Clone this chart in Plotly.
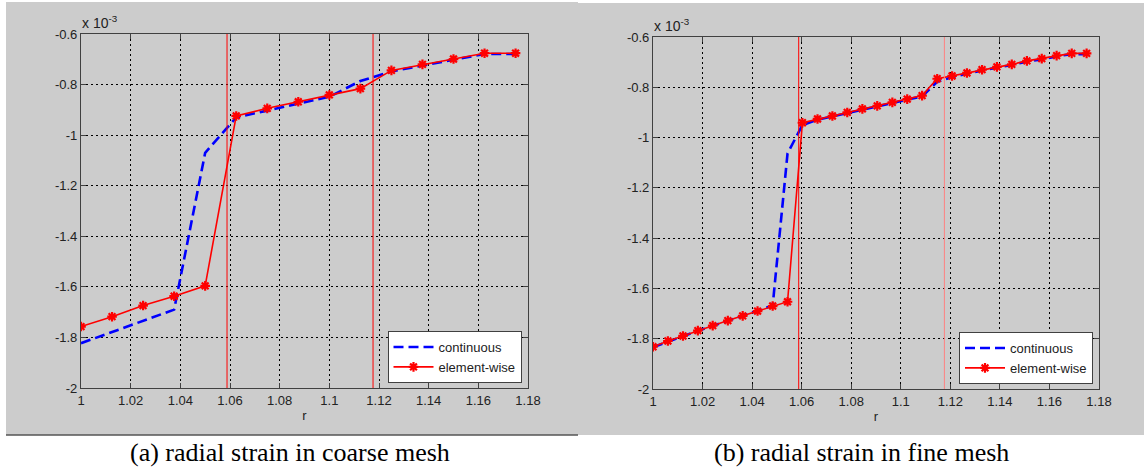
import plotly.graph_objects as go

W, H = 1144, 468

# ---------------- data (strain values in units of 1e-3) ----------------
r_coarse = [1.0, 1.0125, 1.025, 1.0375, 1.05, 1.0625, 1.075, 1.0875,
            1.1, 1.1125, 1.125, 1.1375, 1.15, 1.1625, 1.175]
cont_coarse = [-1.823, -1.779, -1.735, -1.690, -1.070, -0.930, -0.903, -0.877,
               -0.848, -0.786, -0.748, -0.725, -0.701, -0.679, -0.679]
elem_coarse = [-1.757, -1.718, -1.674, -1.637, -1.596, -0.924, -0.894, -0.868,
               -0.841, -0.816, -0.744, -0.720, -0.699, -0.676, -0.676]

r_fine = [1.0, 1.0060, 1.0121, 1.0181, 1.0241, 1.0302, 1.0362, 1.0422, 1.0483, 1.0543,
          1.0603, 1.0664, 1.0724, 1.0784, 1.0845, 1.0905, 1.0966, 1.1026, 1.1086, 1.1147,
          1.1207, 1.1267, 1.1328, 1.1388, 1.1448, 1.1509, 1.1569, 1.1629, 1.1690, 1.1750]
cont_fine = [-1.834, -1.811, -1.790, -1.769, -1.749, -1.729, -1.710, -1.690, -1.668, -1.063,
             -0.950, -0.929, -0.916, -0.902, -0.888, -0.876, -0.862, -0.849, -0.836, -0.778,
             -0.760, -0.746, -0.733, -0.722, -0.711, -0.698, -0.689, -0.677, -0.668, -0.668]
elem_fine = [-1.832, -1.809, -1.789, -1.768, -1.748, -1.728, -1.709, -1.690, -1.670, -1.653,
             -0.941, -0.926, -0.914, -0.900, -0.886, -0.874, -0.860, -0.847, -0.833, -0.766,
             -0.755, -0.743, -0.730, -0.719, -0.709, -0.695, -0.686, -0.674, -0.665, -0.665]

interfaces = [1.0588, 1.1176]

x_ticks = [1.0, 1.02, 1.04, 1.06, 1.08, 1.1, 1.12, 1.14, 1.16, 1.18]
x_ticktext = ["1", "1.02", "1.04", "1.06", "1.08", "1.1", "1.12", "1.14", "1.16", "1.18"]
y_ticks = [-2.0, -1.8, -1.6, -1.4, -1.2, -1.0, -0.8, -0.6]
y_ticktext = ["-2", "-1.8", "-1.6", "-1.4", "-1.2", "-1", "-0.8", "-0.6"]

series_names = ["continuous", "element-wise"]
captions = ["(a) radial strain in coarse mesh", "(b) radial strain in fine mesh"]

# ---------------- layout geometry (pixels) ----------------
plots = [
    dict(x0=81, x1=528, y0=34, y1=388),
    dict(x0=653, x1=1099, y0=37, y1=389),
]


def px(v):
    return v / W


def py(v):
    return 1 - v / H


fig = go.Figure()

datasets = [(r_coarse, cont_coarse, elem_coarse), (r_fine, cont_fine, elem_fine)]
for i, (rr, cc, ee) in enumerate(datasets):
    sfx = "" if i == 0 else str(i + 1)
    leg = "legend" if i == 0 else "legend2"
    fig.add_trace(go.Scatter(
        x=rr, y=cc, mode="lines", name=series_names[0],
        line=dict(color="#0000ff", width=2.6, dash="10px,5px"),
        xaxis="x" + sfx, yaxis="y" + sfx, legend=leg))
    fig.add_trace(go.Scatter(
        x=rr, y=ee, mode="lines+markers", name=series_names[1],
        line=dict(color="#ff0000", width=1.6),
        marker=dict(symbol="asterisk-open", size=8, color="#ff0000",
                    line=dict(color="#ff1010", width=2.2)),
        xaxis="x" + sfx, yaxis="y" + sfx, legend=leg))

axis_common = dict(
    showgrid=True, gridcolor="#000000", gridwidth=1, griddash="2px,3px",
    showline=True, linecolor="#404040", linewidth=1.2, mirror="ticks",
    ticks="inside", ticklen=5, tickcolor="#404040",
    zeroline=False, automargin=False,
    tickfont=dict(family="Liberation Sans, Arial", size=13, color="#222222"),
)

layout = dict(
    width=W, height=H, margin=dict(l=0, r=0, t=0, b=0, pad=0, autoexpand=False),
    paper_bgcolor="white", plot_bgcolor="white", showlegend=True,
)

for i, p in enumerate(plots):
    sfx = "" if i == 0 else str(i + 1)
    layout["xaxis" + sfx] = dict(
        axis_common, domain=[px(p["x0"]), px(p["x1"])], range=[1.0, 1.18],
        tickvals=x_ticks, ticktext=x_ticktext, anchor="y" + sfx,
        title=dict(text="r", font=dict(family="Liberation Sans, Arial", size=13, color="#222"),
                   standoff=4))
    layout["yaxis" + sfx] = dict(
        axis_common, domain=[py(p["y1"]), py(p["y0"])], range=[-2.0, -0.6],
        tickvals=y_ticks, ticktext=y_ticktext, anchor="x" + sfx)

legend_style = dict(bgcolor="white", bordercolor="#404040", borderwidth=1,
                    font=dict(family="Liberation Sans, Arial", size=13, color="#222"),
                    xanchor="right", yanchor="bottom", tracegroupgap=0,
                    itemwidth=40)
layout["legend"] = dict(legend_style, x=px(521.5), y=py(383))
layout["legend2"] = dict(legend_style, x=px(1093), y=py(384))

fig.update_layout(**layout)

# grey figure panels
shapes = [
    dict(type="rect", xref="paper", yref="paper", x0=px(6), x1=px(578), y0=py(435), y1=py(2),
         fillcolor="#cccccc", line=dict(width=0), layer="below"),
    dict(type="rect", xref="paper", yref="paper", x0=px(572), x1=px(1144), y0=py(435), y1=py(3),
         fillcolor="#cccccc", line=dict(width=0), layer="below"),
    dict(type="line", xref="paper", yref="paper", x0=px(6), x1=px(578), y0=py(435), y1=py(435),
         line=dict(color="#555555", width=1.5)),
]
# interface lines
for i in range(2):
    sfx = "" if i == 0 else str(i + 1)
    for k, xv in enumerate(interfaces):
        col = "#ff0000" if (i == 0 or k == 0) else "#ff8080"
        shapes.append(dict(type="line", xref="x" + sfx, yref="y" + sfx + " domain",
                           x0=xv, x1=xv, y0=0, y1=1, line=dict(color=col, width=1)))
fig.update_layout(shapes=shapes)

annotations = []
for i, p in enumerate(plots):
    annotations.append(dict(
        xref="paper", yref="paper", x=px(p["x0"] - 1), y=py(p["y0"] - 1),
        xanchor="left", yanchor="bottom", showarrow=False,
        text="x 10<sup>-3</sup>",
        font=dict(family="Liberation Sans, Arial", size=14, color="#222")))
cap_centers = [290, 861]
for c, t in zip(cap_centers, captions):
    annotations.append(dict(
        xref="paper", yref="paper", x=px(c), y=py(452), xanchor="center", yanchor="middle",
        showarrow=False, text=t,
        font=dict(family="Liberation Serif, Times New Roman", size=26, color="#000")))
fig.update_layout(annotations=annotations)

fig.write_html("out.html")
